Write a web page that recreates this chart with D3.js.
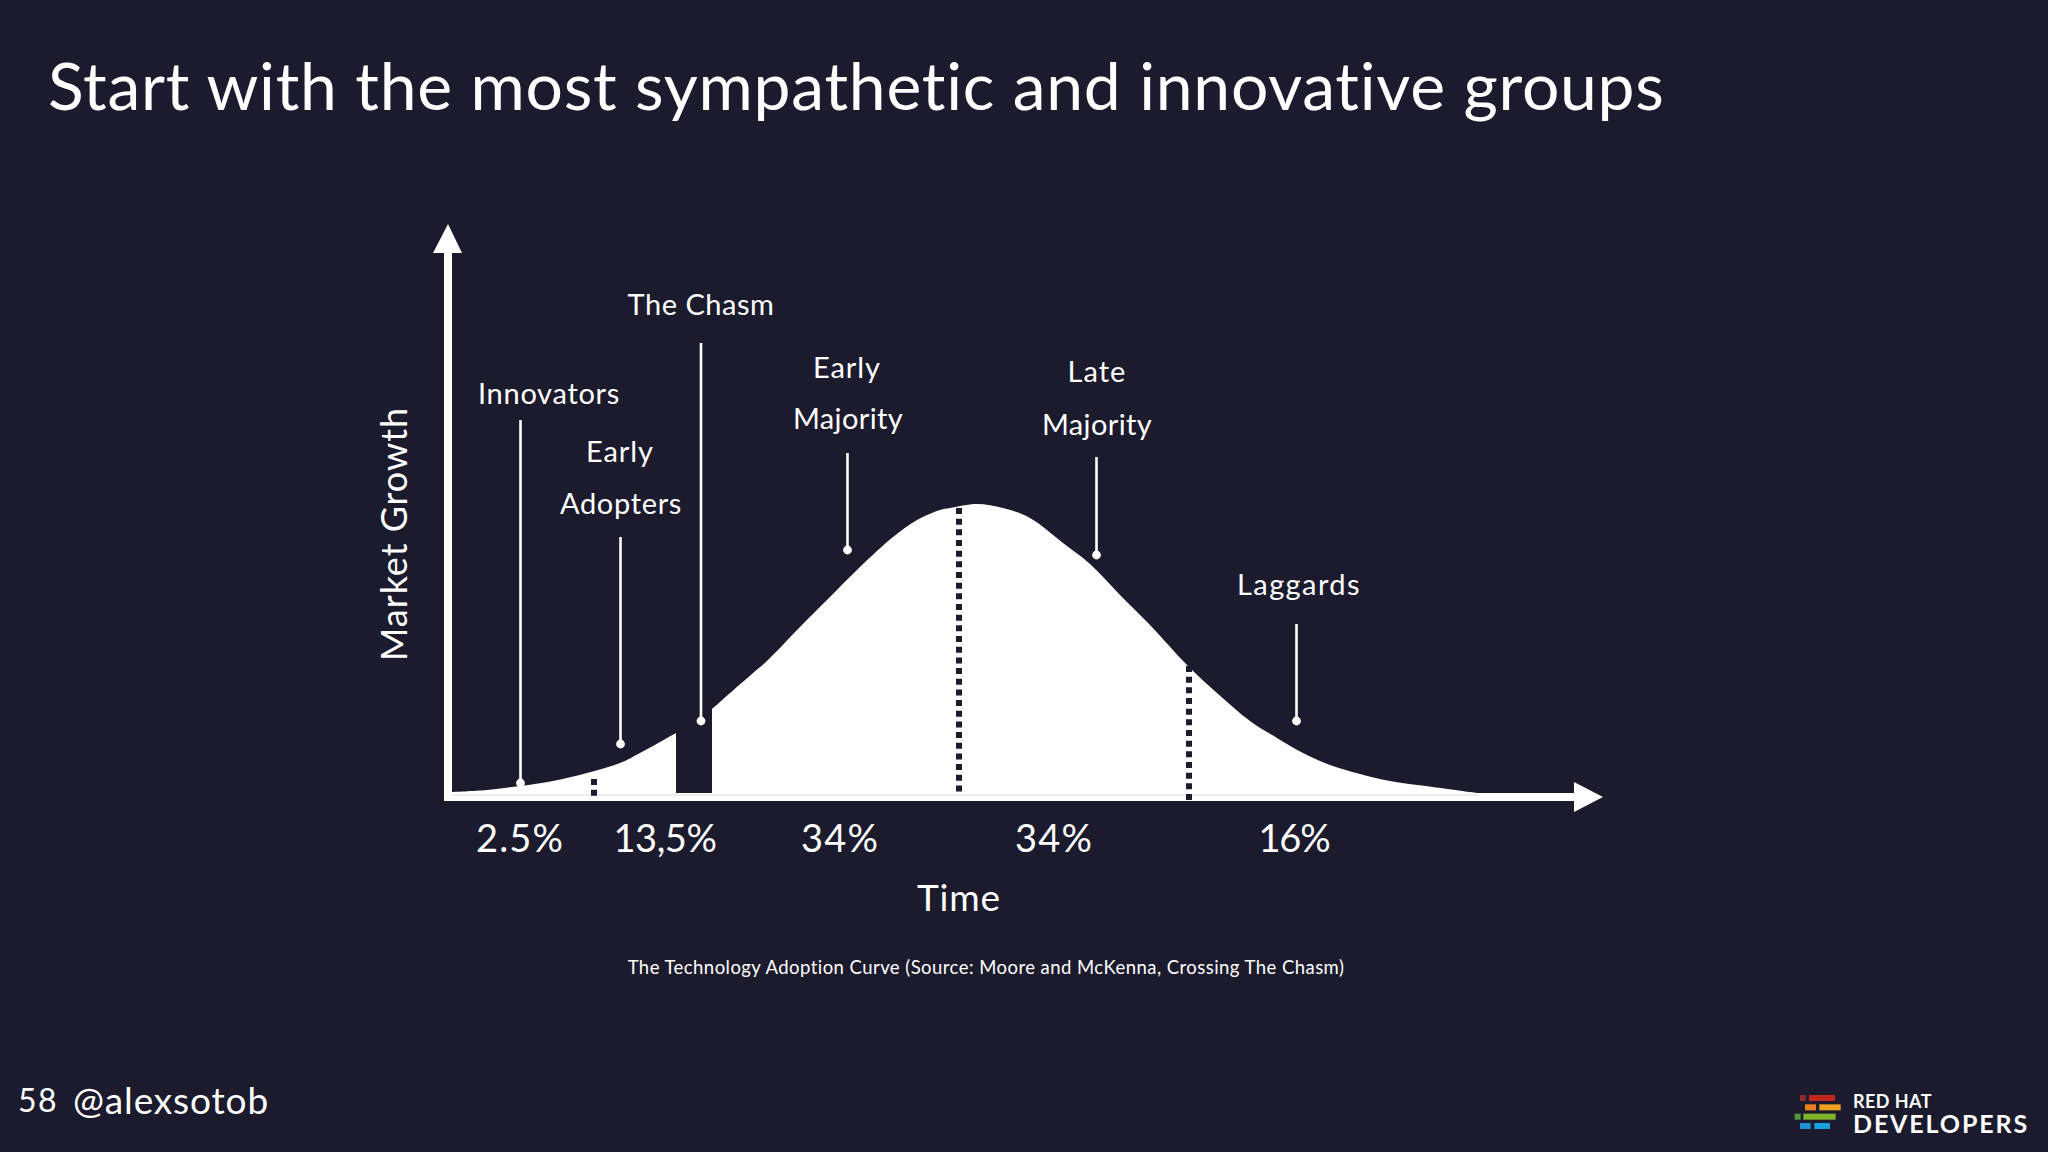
<!DOCTYPE html>
<html lang="en">
<head>
<meta charset="utf-8">
<title>Technology Adoption Curve</title>
<script src="https://cdn.jsdelivr.net/npm/d3@7"></script>
<style>
  html, body { margin: 0; padding: 0; background: #1c1b2e; }
  svg { display: block; }
  text { font-family: Lato, "Noto Sans", sans-serif; fill: #fff; }
</style>
</head>
<body>
<div id="drawing"></div>
<script>
// curve left of the chasm
var earlyTime = [0, 36, 69, 102, 136, 169, 189, 209, 225];
var earlyGrowth = [1, 3, 7, 12, 20, 30, 40, 51, 60];
// curve right of the chasm
var mainTime = [261, 302, 317, 349, 376, 409, 442, 466, 489, 499, 526, 552, 579, 612, 639, 669, 699, 736, 766, 799, 826, 852, 879, 909, 939, 982, 1026];
var mainGrowth = [84, 120, 133, 166, 193, 226, 256, 273, 283, 285, 289, 285, 275, 250, 229, 198, 168, 128, 100, 72, 55, 40, 28, 19, 12, 6, 0];

// dotted dividers
var dividerTime = [143, 508, 738];
var dividerTop = [14, 285, 127];
var dividerBottom = [-3, 0, -7];

// pointer lines
var pointerTime = [69.5, 169.5, 250, 396.5, 645.5, 845.5];
var pointerTop = [373, 256, 450, 340, 336, 169];
var pointerDot = [10, 49, 72, 243, 238, 72];

var shareLabels = ['2.5%', '13,5%', '34%', '34%', '16%'];
var shareTime = [69, 214, 389, 603, 843];

var logoRows = [
  [['#8f2a2a', 60, 77], ['#c0281f', 87, 165]],
  [['#ee7f1d', 75, 108], ['#f0a020', 118, 182]],
  [['#4f9a3a', 44, 62], ['#7fb52a', 70, 167]],
  [['#1f8fd8', 60, 92], ['#18a0dc', 103, 150]]
];

var shareWidths = [88, 103, 78, 78, 71];

var svg = d3.select('#drawing').append('svg').attr('width', 2048).attr('height', 1152);
svg.append('rect').attr('width', 2048).attr('height', 1152).attr('fill', '#1c1b2e');

var x = d3.scaleLinear().domain([0, 1150]).range([451, 1601]);
var y = d3.scaleLinear().domain([0, 300]).range([793, 493]);

// writes a text and spreads its letters until it has the wanted width
function put(parent, str, px, py, size, anchor, width, weight) {
  var t = parent.append('text')
    .attr('x', px).attr('y', py)
    .attr('font-size', size)
    .attr('text-anchor', anchor)
    .attr('font-weight', weight || 400)
    .text(str);
  if (width) {
    var extra = (width - t.node().getComputedTextLength()) / str.length;
    t.style('letter-spacing', extra + 'px');
  }
  return t;
}

// filled curve
var area = d3.area()
  .x(function (d) { return x(d[0]); })
  .y0(y(-2))
  .y1(function (d) { return y(d[1]); })
  .curve(d3.curveCatmullRom.alpha(0.5));

svg.append('path').datum(d3.zip(earlyTime, earlyGrowth)).attr('d', area).attr('fill', '#fff');
svg.append('path').datum(d3.zip(mainTime, mainGrowth)).attr('d', area).attr('fill', '#fff');

// axes
svg.append('rect').attr('x', 444).attr('y', 245).attr('width', 8).attr('height', 556).attr('fill', '#fff');
svg.append('rect').attr('x', 444).attr('y', 793).attr('width', 1135).attr('height', 8).attr('fill', '#fff');
svg.append('path').attr('d', 'M448,224L462,253L433,253Z').attr('fill', '#fff');
svg.append('path').attr('d', 'M1603,797L1574,782L1574,812Z').attr('fill', '#fff');
svg.append('line').attr('x1', 452).attr('x2', 1478).attr('y1', 795).attr('y2', 795)
  .attr('stroke', '#dcd9e6').attr('stroke-width', 1);

// dotted dividers
dividerTime.forEach(function (t, i) {
  svg.append('line')
    .attr('x1', x(t)).attr('x2', x(t))
    .attr('y1', y(dividerTop[i])).attr('y2', y(dividerBottom[i]))
    .attr('stroke', '#1c1b2e')
    .attr('stroke-width', 6)
    .attr('stroke-dasharray', '6 4.67');
});

// pointers
pointerTime.forEach(function (t, i) {
  svg.append('line')
    .attr('x1', x(t)).attr('x2', x(t))
    .attr('y1', y(pointerTop[i])).attr('y2', y(pointerDot[i]))
    .attr('stroke', '#fff').attr('stroke-width', 2.6);
  svg.append('circle')
    .attr('cx', x(t)).attr('cy', y(pointerDot[i])).attr('r', 4.4)
    .attr('fill', '#fff');
});

// title
put(svg, 'Start with the most sympathetic and innovative groups', 48, 110, 66, 'start', 1619);

// group names
put(svg, 'Innovators', 549, 404, 29, 'middle', 142);
put(svg, 'Early', 620, 462, 29, 'middle', 68);
put(svg, 'Adopters', 621, 514, 29, 'middle', 122);
put(svg, 'The Chasm', 701, 315, 29, 'middle', 147);
put(svg, 'Early', 847, 378, 29, 'middle', 68);
put(svg, 'Majority', 848, 429, 29, 'middle', 110);
put(svg, 'Late', 1097, 382, 29, 'middle', 59);
put(svg, 'Majority', 1097, 435, 29, 'middle', 110);
put(svg, 'Laggards', 1299, 595, 29, 'middle', 124);

// shares under the axis
shareLabels.forEach(function (s, i) {
  put(svg, s, x(shareTime[i]), 852, 38, 'middle', shareWidths[i]);
});

put(svg, 'Time', 959, 911, 37, 'middle', 84);
put(svg, 'Market Growth', 0, 0, 36, 'middle', 254)
  .attr('transform', 'translate(407,534) rotate(-90)');

put(svg, 'The Technology Adoption Curve (Source: Moore and McKenna, Crossing The Chasm)', 986, 974, 18.5, 'middle', 717);

// footer
put(svg, '58', 18, 1112, 32, 'start', 40);
put(svg, '@alexsotob', 73, 1114, 37, 'start', 196);

// logo
var logo = svg.append('g').attr('transform', 'translate(1780,1070) scale(0.3333)');
logoRows.forEach(function (row, r) {
  row.forEach(function (bar) {
    logo.append('rect')
      .attr('x', bar[1]).attr('y', 75 + r * 28)
      .attr('width', bar[2] - bar[1]).attr('height', 18)
      .attr('fill', bar[0]);
  });
});
put(svg, 'RED HAT', 1853, 1108, 18, 'start', 79, 700);
put(svg, 'DEVELOPERS', 1853, 1133, 25, 'start', 176, 700);
</script>
</body>
</html>
